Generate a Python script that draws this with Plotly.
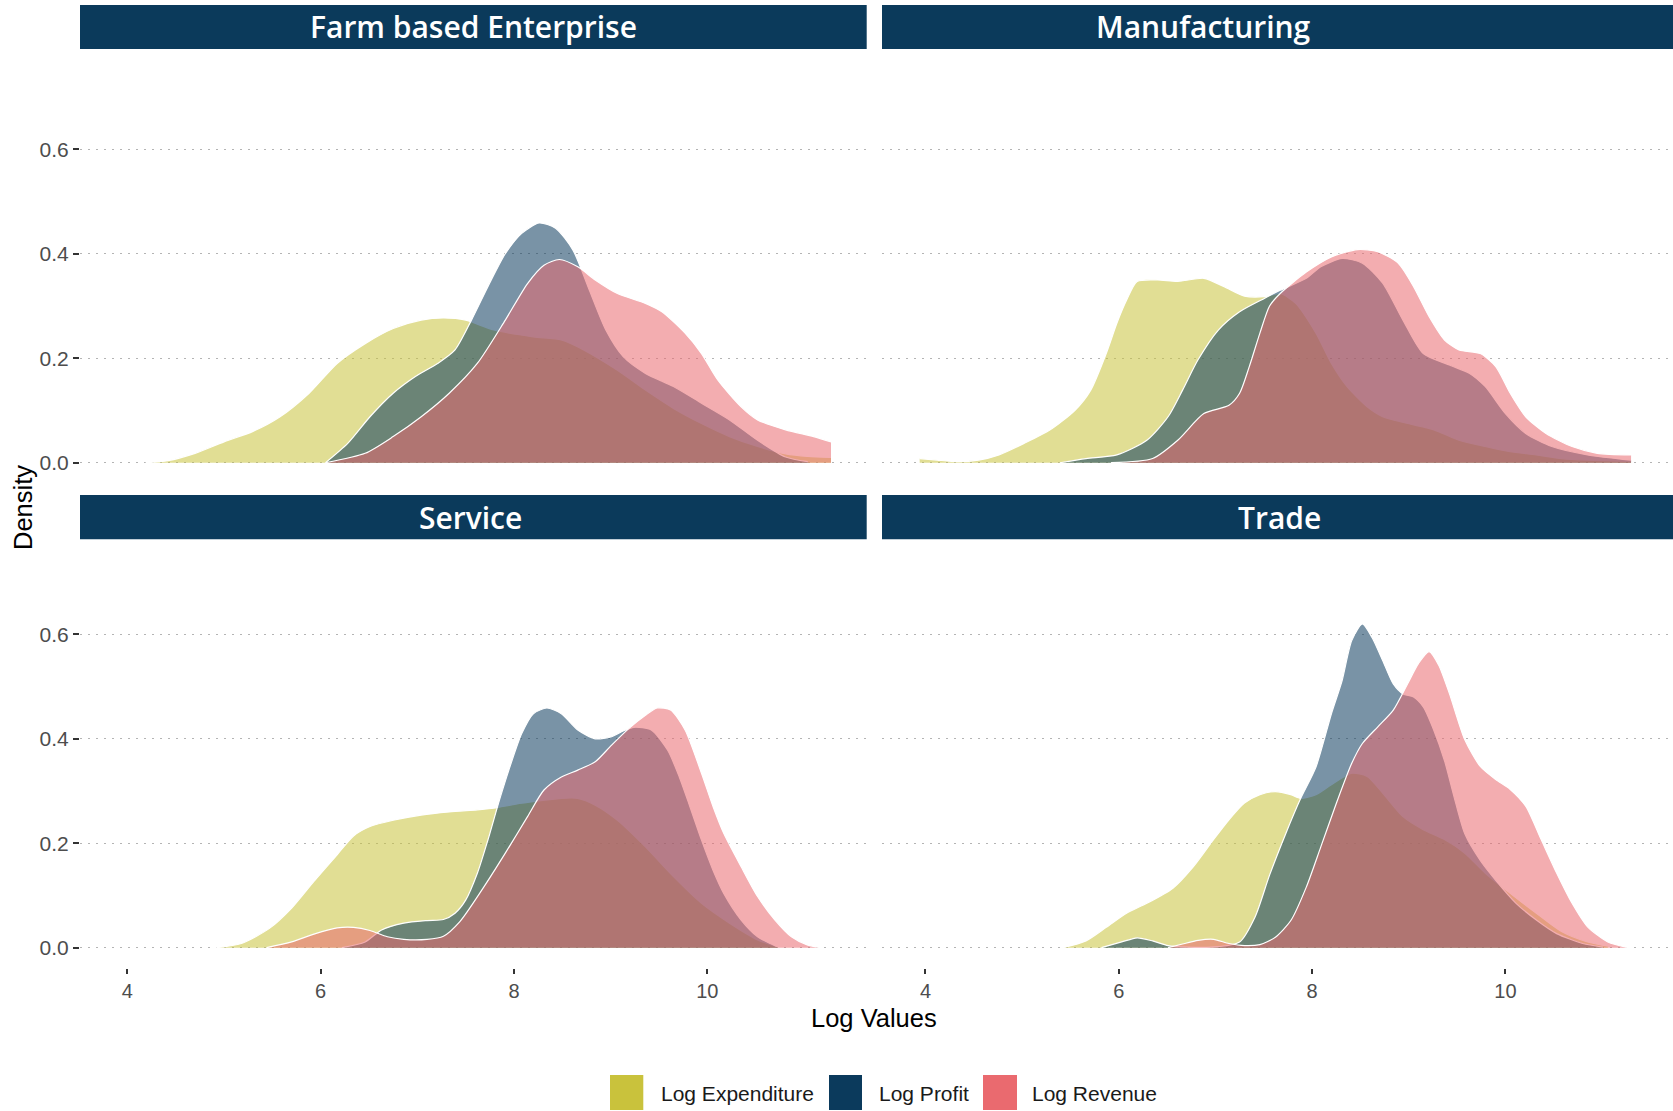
import plotly.graph_objects as go

# ---------------- data ----------------
PANELS = ["Farm based Enterprise", "Manufacturing", "Service", "Trade"]
SERIES = ["Log Expenditure", "Log Profit", "Log Revenue"]
X_TICKS = [4, 6, 8, 10]
Y_TICKS = [0.0, 0.2, 0.4, 0.6]
Y_TICK_TEXT = ["0.0", "0.2", "0.4", "0.6"]

# Farm based Enterprise
farm_exp_x = [4.19, 4.42, 4.7, 5.0, 5.3, 5.58, 5.88, 6.17, 6.46, 6.75, 7.04, 7.27, 7.5, 7.79, 8.2, 8.49, 8.72, 9.07, 9.36, 9.65, 9.94, 10.23, 10.52, 10.81, 11.04, 11.28]
farm_exp_y = [0.0, 0.004, 0.018, 0.04, 0.06, 0.088, 0.133, 0.19, 0.228, 0.257, 0.273, 0.277, 0.273, 0.254, 0.241, 0.235, 0.216, 0.177, 0.139, 0.104, 0.075, 0.05, 0.031, 0.017, 0.012, 0.01]
farm_pro_x = [6.05, 6.28, 6.51, 6.75, 6.98, 7.21, 7.39, 7.56, 7.73, 7.91, 8.08, 8.26, 8.43, 8.61, 8.78, 8.95, 9.13, 9.36, 9.65, 9.94, 10.23, 10.52, 10.81, 11.04]
farm_pro_y = [0.0, 0.037, 0.088, 0.133, 0.165, 0.19, 0.216, 0.273, 0.337, 0.40, 0.439, 0.459, 0.449, 0.407, 0.33, 0.254, 0.203, 0.171, 0.146, 0.114, 0.082, 0.043, 0.011, 0.002]
farm_rev_x = [6.05, 6.46, 6.75, 7.04, 7.33, 7.62, 7.91, 8.14, 8.31, 8.47, 8.66, 8.84, 9.07, 9.36, 9.53, 9.77, 9.94, 10.11, 10.35, 10.52, 10.81, 11.1, 11.28]
farm_rev_y = [0.0, 0.018, 0.05, 0.088, 0.133, 0.19, 0.273, 0.343, 0.378, 0.389, 0.375, 0.35, 0.324, 0.305, 0.289, 0.248, 0.209, 0.158, 0.107, 0.082, 0.063, 0.05, 0.04]

# Manufacturing
manu_exp_x = [3.94, 4.12, 4.33, 4.55, 4.76, 5.02, 5.29, 5.55, 5.71, 5.87, 5.98, 6.08, 6.19, 6.40, 6.61, 6.88, 7.09, 7.30, 7.51, 7.67, 7.83, 8.04, 8.20, 8.36, 8.57, 8.73, 8.99, 9.26, 9.52, 9.79, 10.05, 10.32, 10.58, 10.85, 11.30]
manu_exp_y = [0.008, 0.005, 0.002, 0.005, 0.015, 0.037, 0.063, 0.101, 0.139, 0.209, 0.267, 0.311, 0.347, 0.35, 0.347, 0.353, 0.337, 0.319, 0.318, 0.324, 0.305, 0.248, 0.19, 0.146, 0.107, 0.088, 0.075, 0.063, 0.043, 0.031, 0.021, 0.015, 0.008, 0.005, 0.003]
manu_pro_x = [5.39, 5.66, 5.98, 6.29, 6.51, 6.66, 6.82, 7.03, 7.25, 7.51, 7.67, 7.94, 8.09, 8.31, 8.52, 8.73, 8.94, 9.15, 9.42, 9.63, 9.79, 10.0, 10.21, 10.48, 10.85, 11.30]
manu_pro_y = [0.0, 0.008, 0.015, 0.043, 0.088, 0.139, 0.197, 0.254, 0.289, 0.315, 0.33, 0.353, 0.375, 0.391, 0.382, 0.344, 0.273, 0.209, 0.187, 0.171, 0.146, 0.094, 0.056, 0.031, 0.015, 0.005]
manu_rev_x = [5.92, 6.35, 6.61, 6.88, 7.14, 7.25, 7.35, 7.46, 7.56, 7.67, 7.94, 8.20, 8.47, 8.68, 8.89, 9.05, 9.21, 9.37, 9.52, 9.74, 9.90, 10.05, 10.21, 10.42, 10.69, 10.95, 11.30]
manu_rev_y = [0.0, 0.008, 0.043, 0.094, 0.110, 0.133, 0.184, 0.248, 0.30, 0.324, 0.365, 0.394, 0.408, 0.404, 0.382, 0.337, 0.28, 0.235, 0.216, 0.209, 0.184, 0.133, 0.088, 0.056, 0.031, 0.018, 0.015]

# Service
serv_exp_x = [4.92, 5.18, 5.47, 5.70, 5.93, 6.17, 6.34, 6.51, 6.75, 7.04, 7.33, 7.62, 7.79, 8.02, 8.26, 8.49, 8.66, 8.84, 9.07, 9.36, 9.65, 9.94, 10.23, 10.52, 10.72]
serv_exp_y = [0.0, 0.008, 0.037, 0.076, 0.127, 0.178, 0.214, 0.232, 0.244, 0.254, 0.26, 0.264, 0.267, 0.275, 0.281, 0.286, 0.286, 0.273, 0.244, 0.193, 0.136, 0.085, 0.047, 0.015, 0.002]
serv_pro_x = [6.22, 6.46, 6.63, 6.86, 7.10, 7.27, 7.39, 7.50, 7.62, 7.73, 7.85, 7.97, 8.08, 8.20, 8.34, 8.49, 8.66, 8.84, 9.01, 9.13, 9.24, 9.42, 9.59, 9.71, 9.82, 9.94, 10.06, 10.17, 10.35, 10.52, 10.72]
serv_pro_y = [0.0, 0.011, 0.034, 0.047, 0.052, 0.054, 0.066, 0.091, 0.142, 0.206, 0.283, 0.353, 0.41, 0.448, 0.459, 0.448, 0.417, 0.40, 0.404, 0.415, 0.422, 0.417, 0.378, 0.327, 0.27, 0.206, 0.148, 0.104, 0.053, 0.021, 0.002]
serv_rev_x = [5.44, 5.70, 5.93, 6.17, 6.34, 6.51, 6.69, 6.86, 7.10, 7.27, 7.44, 7.68, 7.91, 8.14, 8.31, 8.49, 8.66, 8.84, 9.01, 9.19, 9.36, 9.48, 9.62, 9.77, 9.94, 10.06, 10.17, 10.35, 10.52, 10.70, 10.87, 11.04, 11.19]
serv_rev_y = [0.0, 0.011, 0.026, 0.038, 0.039, 0.033, 0.021, 0.016, 0.016, 0.022, 0.05, 0.114, 0.181, 0.251, 0.302, 0.327, 0.34, 0.356, 0.388, 0.42, 0.445, 0.459, 0.455, 0.417, 0.334, 0.27, 0.219, 0.155, 0.098, 0.053, 0.021, 0.005, 0.0]

# Trade
trad_exp_x = [5.42, 5.66, 5.87, 6.08, 6.29, 6.56, 6.77, 6.98, 7.14, 7.30, 7.46, 7.62, 7.78, 7.88, 8.04, 8.20, 8.41, 8.57, 8.73, 8.94, 9.15, 9.37, 9.58, 9.79, 10.05, 10.32, 10.58, 10.85, 11.06]
trad_exp_y = [0.0, 0.013, 0.039, 0.066, 0.085, 0.114, 0.155, 0.207, 0.245, 0.277, 0.293, 0.299, 0.293, 0.286, 0.293, 0.312, 0.334, 0.328, 0.296, 0.251, 0.226, 0.207, 0.181, 0.143, 0.104, 0.066, 0.031, 0.011, 0.003]
trad_pro_x = [5.82, 6.03, 6.19, 6.35, 6.51, 6.72, 7.03, 7.25, 7.41, 7.56, 7.72, 7.88, 8.04, 8.20, 8.31, 8.41, 8.52, 8.62, 8.73, 8.84, 8.94, 9.05, 9.15, 9.26, 9.37, 9.47, 9.58, 9.74, 9.90, 10.11, 10.32, 10.53, 10.80, 11.01]
trad_pro_y = [0.0, 0.011, 0.019, 0.013, 0.004, 0.001, 0.002, 0.011, 0.059, 0.139, 0.215, 0.285, 0.346, 0.448, 0.511, 0.588, 0.62, 0.594, 0.55, 0.505, 0.486, 0.48, 0.461, 0.416, 0.358, 0.288, 0.218, 0.167, 0.129, 0.085, 0.053, 0.027, 0.008, 0.001]
trad_rev_x = [6.51, 6.66, 6.82, 6.98, 7.14, 7.30, 7.46, 7.62, 7.78, 7.94, 8.09, 8.25, 8.41, 8.52, 8.68, 8.84, 8.99, 9.10, 9.21, 9.31, 9.42, 9.58, 9.74, 9.90, 10.05, 10.21, 10.37, 10.53, 10.69, 10.85, 11.06, 11.27]
trad_rev_y = [0.0, 0.007, 0.014, 0.016, 0.008, 0.004, 0.006, 0.02, 0.052, 0.116, 0.193, 0.276, 0.353, 0.391, 0.423, 0.455, 0.506, 0.544, 0.567, 0.541, 0.487, 0.398, 0.347, 0.322, 0.303, 0.271, 0.207, 0.143, 0.085, 0.04, 0.011, 0.0]

PANEL_DATA = {
    "Farm based Enterprise": [(farm_exp_x, farm_exp_y), (farm_pro_x, farm_pro_y), (farm_rev_x, farm_rev_y)],
    "Manufacturing": [(manu_exp_x, manu_exp_y), (manu_pro_x, manu_pro_y), (manu_rev_x, manu_rev_y)],
    "Service": [(serv_exp_x, serv_exp_y), (serv_pro_x, serv_pro_y), (serv_rev_x, serv_rev_y)],
    "Trade": [(trad_exp_x, trad_exp_y), (trad_pro_x, trad_pro_y), (trad_rev_x, trad_rev_y)],
}

# ---------------- styling ----------------
W, H = 1673, 1111
COLORS = ["#C9C23C", "#0B3A5C", "#EA6A6F"]
ALPHA = 0.55
STRIP = "#0B3A5B"
TICK_FONT = "Liberation Sans, Arial, sans-serif"


def rgba(hexcol, a):
    h = hexcol.lstrip("#")
    r, g, b = int(h[0:2], 16), int(h[2:4], 16), int(h[4:6], 16)
    return f"rgba({r},{g},{b},{a})"


def px_x(p):
    return p / W


def px_y(p):
    return 1 - p / H


# panel geometry (pixels)
cols = [(80, 866.7), (882, 1673)]
rows = [(49, 481), (539.3, 967.7)]
x_ranges = [[3.51, 11.649], [3.55, 11.734]]
y_ranges = [[-0.035, 0.792], [-0.0383, 0.782]]
strip_rows = [(5, 49), (495, 539.3)]
strip_text_x = {"Farm based Enterprise": 473, "Manufacturing": 1203, "Service": 470, "Trade": 1279}

fig = go.Figure()
layout = dict(
    width=W, height=H,
    margin=dict(l=0, r=0, t=0, b=0),
    paper_bgcolor="white", plot_bgcolor="white",
    showlegend=False,
    shapes=[], annotations=[],
)

for i, panel in enumerate(PANELS):
    r, c = divmod(i, 2)
    n = i + 1
    xa = "x" if n == 1 else f"x{n}"
    ya = "y" if n == 1 else f"y{n}"
    for s, (xs, ys) in enumerate(PANEL_DATA[panel]):
        fig.add_trace(go.Scatter(
            x=xs, y=ys, xaxis=xa, yaxis=ya, mode="lines",
            name=SERIES[s], fill="tozeroy",
            fillcolor=rgba(COLORS[s], ALPHA),
            line=dict(color="white", width=1.2, shape="spline", smoothing=0.7),
            hoverinfo="skip",
        ))
    xkey = "xaxis" if n == 1 else f"xaxis{n}"
    ykey = "yaxis" if n == 1 else f"yaxis{n}"
    bottom = (r == 1)
    left = (c == 0)
    layout[xkey] = dict(
        domain=[px_x(cols[c][0]), px_x(cols[c][1])],
        range=x_ranges[c], anchor=ya,
        showgrid=False, zeroline=False, showline=False,
        tickvals=X_TICKS if bottom else [],
        showticklabels=bottom,
        ticks="outside" if bottom else "", ticklen=5, tickwidth=1.5, tickcolor="#333333",
        tickfont=dict(family=TICK_FONT, size=20, color="#4d4d4d"),
    )
    layout[ykey] = dict(
        domain=[px_y(rows[r][1]), px_y(rows[r][0])],
        range=y_ranges[r], anchor=xa,
        showgrid=True, gridcolor="#b4b4b4", gridwidth=1.3, griddash="1.5px,6.5px",
        zeroline=False, showline=False,
        tickvals=Y_TICKS, ticktext=Y_TICK_TEXT,
        showticklabels=left,
        ticks="outside" if left else "", ticklen=6, tickwidth=2, tickcolor="#333333",
        tickfont=dict(family=TICK_FONT, size=21, color="#4d4d4d"),
    )
    # strip
    layout["shapes"].append(dict(
        type="rect", xref="paper", yref="paper",
        x0=px_x(cols[c][0]), x1=px_x(cols[c][1]),
        y0=px_y(strip_rows[r][1]), y1=px_y(strip_rows[r][0]),
        fillcolor=STRIP, line=dict(width=0), layer="above",
    ))
    layout["annotations"].append(dict(
        text=panel, xref="paper", yref="paper",
        x=px_x(strip_text_x[panel]), y=px_y((strip_rows[r][0] + strip_rows[r][1]) / 2),
        xanchor="center", yanchor="middle", showarrow=False,
        font=dict(family="Open Sans, sans-serif", size=30, color="white", weight=600),
    ))

# axis titles
layout["annotations"].append(dict(
    text="Log Values", xref="paper", yref="paper", x=px_x(874), y=px_y(1018),
    xanchor="center", yanchor="middle", showarrow=False,
    font=dict(family=TICK_FONT, size=25.5, color="black"),
))
layout["annotations"].append(dict(
    text="Density", xref="paper", yref="paper", x=px_x(23), y=px_y(508),
    xanchor="center", yanchor="middle", showarrow=False, textangle=-90,
    font=dict(family=TICK_FONT, size=25.5, color="black"),
))

# legend (manual keys)
legend_items = [(610, 643.3, 659), (829, 862, 877), (983, 1017, 1030)]
for s, (bx0, bx1, tx) in enumerate(legend_items):
    layout["shapes"].append(dict(
        type="rect", xref="paper", yref="paper",
        x0=px_x(bx0), x1=px_x(bx1), y0=px_y(1110), y1=px_y(1075),
        fillcolor=COLORS[s], line=dict(width=0),
    ))
    layout["annotations"].append(dict(
        text=SERIES[s], xref="paper", yref="paper", x=px_x(tx), y=px_y(1093),
        xanchor="left", yanchor="middle", showarrow=False,
        font=dict(family=TICK_FONT, size=21, color="#1a1a1a"),
    ))

fig.update_layout(**layout)
fig.write_html("out.html")
